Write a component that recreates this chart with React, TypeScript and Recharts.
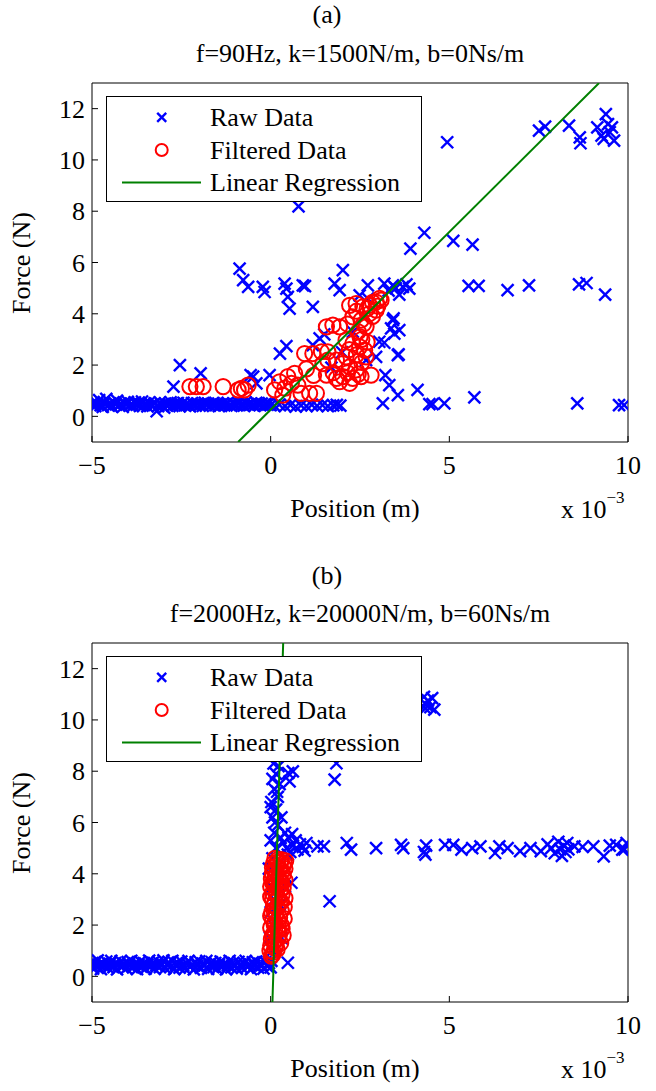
import { Legend, Scatter, ScatterChart, XAxis, YAxis } from 'recharts';

type Pt = [number, number];

const xTicks = [-5, 0, 5, 10];
const yTicks = [0, 2, 4, 6, 8, 10, 12];

const legendLabels = ['Raw Data', 'Filtered Data', 'Linear Regression'];

// panel (a): f=90Hz, k=1500N/m, b=0Ns/m  (x in 1e-3 m)
const rawA: Pt[] = [
  [-5.0, 0.45], [-4.96, 0.56], [-4.91, 0.4], [-4.86, 0.5], [-4.8, 0.63], [-4.76, 0.44], [-4.7, 0.37],
  [-4.66, 0.52], [-4.6, 0.68], [-4.55, 0.44], [-4.49, 0.5], [-4.45, 0.39], [-4.4, 0.55], [-4.33, 0.47],
  [-4.3, 0.61], [-4.24, 0.42], [-4.2, 0.5], [-4.14, 0.37], [-4.1, 0.53], [-4.04, 0.46], [-4.0, 0.57],
  [-3.94, 0.43], [-3.9, 0.49], [-3.86, 0.4], [-3.8, 0.55], [-3.74, 0.47], [-3.7, 0.52], [-3.66, 0.41],
  [-3.6, 0.58], [-3.54, 0.45], [-3.5, 0.5], [-3.45, 0.39], [-3.4, 0.54], [-3.34, 0.46], [-3.3, 0.42],
  [-3.25, 0.51], [-3.19, 0.2], [-3.15, 0.4], [-3.1, 0.55], [-3.05, 0.44], [-2.98, 0.34], [-2.95, 0.5],
  [-2.9, 0.42], [-2.84, 0.47], [-2.8, 0.55], [-2.75, 0.41], [-2.7, 0.49], [-2.64, 0.44], [-2.6, 0.52],
  [-2.55, 0.4], [-2.5, 0.47], [-2.44, 0.53], [-2.4, 0.43], [-2.35, 0.5], [-2.3, 0.45], [-2.26, 0.39],
  [-2.2, 0.52], [-2.15, 0.46], [-2.1, 0.42], [-2.04, 0.5], [-2.0, 0.44], [-1.95, 0.48], [-1.9, 0.41],
  [-1.84, 0.53], [-1.8, 0.45], [-1.75, 0.5], [-1.7, 0.42], [-1.64, 0.47], [-1.6, 0.52], [-1.55, 0.44],
  [-1.5, 0.49], [-1.45, 0.4], [-1.4, 0.46], [-1.34, 0.51], [-1.3, 0.43], [-1.25, 0.48], [-1.2, 0.53],
  [-1.15, 0.45], [-1.1, 0.41], [-1.04, 0.5], [-1.0, 0.47], [-0.95, 0.43], [-0.9, 0.52], [-0.84, 0.46],
  [-0.8, 0.49], [-0.75, 0.42], [-0.7, 0.55], [-0.64, 0.47], [-0.6, 0.44], [-0.55, 0.5], [-0.5, 0.46],
  [-0.45, 0.41], [-0.4, 0.53], [-0.34, 0.48], [-0.3, 0.45], [-0.25, 0.5], [-0.2, 0.43], [-0.15, 0.49],
  [-0.1, 0.46], [-0.05, 0.52], [0.0, 0.44], [0.1, 0.42], [0.24, 0.46], [0.4, 0.4], [0.55, 0.44],
  [0.7, 0.38], [0.85, 0.43], [1.0, 0.4], [1.15, 0.45], [1.3, 0.41], [1.45, 0.44], [1.6, 0.4],
  [1.75, 0.43], [1.85, 0.45], [1.95, 0.42],
  [-2.72, 1.16], [-2.54, 2.0], [-1.96, 1.68], [-0.56, 1.61], [-0.49, 1.55], [-0.4, 1.29], [-0.03, 1.61],
  [-0.87, 5.76], [-0.77, 5.31], [-0.63, 5.05], [-0.22, 5.05], [-0.17, 4.85], [0.39, 5.18], [0.44, 4.98],
  [0.48, 4.66], [0.53, 4.2], [0.9, 5.11], [0.96, 5.08], [1.18, 4.27], [0.78, 8.19], [1.79, 5.18],
  [1.93, 4.92], [2.02, 5.7], [2.49, 4.72], [2.72, 5.11], [2.72, 4.59], [3.18, 5.18], [3.42, 5.11],
  [3.7, 5.05], [3.88, 4.98], [3.3, 4.9], [3.5, 5.0], [3.6, 4.75], [3.8, 5.15], [0.26, 2.45],
  [0.44, 2.74], [1.18, 2.78], [1.37, 3.04], [2.67, 2.19], [2.95, 2.32], [3.04, 2.91], [3.42, 3.75],
  [3.6, 3.36], [3.46, 3.23], [3.56, 2.39], [3.14, 0.51], [3.21, 1.61], [3.32, 1.22], [3.56, 0.83],
  [3.18, 2.87], [3.58, 2.42], [3.44, 3.82], [3.37, 3.43], [4.11, 1.03], [4.44, 0.48], [4.53, 0.48],
  [4.86, 0.51], [5.7, 0.74], [8.58, 0.51], [9.75, 0.44], [9.89, 0.44], [3.91, 6.54], [4.3, 7.16],
  [5.11, 6.84], [5.65, 6.7], [5.54, 5.09], [5.82, 5.09], [6.63, 4.92], [7.23, 5.11], [8.63, 5.15],
  [8.84, 5.2], [9.36, 4.75], [4.94, 10.69], [7.51, 11.14], [7.68, 11.3], [8.35, 11.34], [8.65, 10.88],
  [8.67, 10.65], [9.14, 11.27], [9.26, 10.95], [9.38, 11.79], [9.44, 11.4], [9.49, 11.08], [9.55, 11.27],
  [9.61, 10.75], [9.32, 10.82], [1.5, 3.2], [2.0, 2.5], [2.3, 3.3], [1.7, 1.9], [2.6, 3.9],
];

const filteredA: Pt[] = [
  [-2.26, 1.16], [-2.08, 1.16], [-1.89, 1.16], [-1.33, 1.16], [-0.91, 1.03], [-0.82, 1.09], [-0.73, 1.03],
  [-0.63, 1.22], [0.11, 1.03], [0.25, 1.35], [0.34, 0.83], [0.4, 1.1], [0.48, 1.55], [0.67, 1.68],
  [0.58, 1.29], [0.76, 1.22], [0.85, 0.9], [1.09, 0.9], [1.28, 0.9], [0.95, 2.45], [1.18, 2.45],
  [1.42, 2.52], [1.6, 2.52], [1.46, 2.06], [1.6, 2.19], [1.0, 1.85], [1.2, 1.6], [1.56, 3.49],
  [1.74, 3.56], [1.93, 3.49], [2.21, 4.33], [2.39, 4.4], [2.58, 4.27], [2.77, 4.33], [2.95, 4.46],
  [3.09, 4.53], [2.3, 3.88], [2.53, 3.75], [2.67, 3.49], [2.77, 4.01], [2.95, 4.14], [2.45, 3.3],
  [2.6, 3.6], [2.85, 3.9], [3.0, 4.3], [2.7, 4.2], [2.5, 3.1], [2.11, 2.97], [2.3, 2.84], [2.49, 2.71],
  [2.63, 2.58], [1.84, 2.19], [2.02, 2.06], [2.21, 1.93], [2.39, 1.81], [2.11, 2.32], [2.67, 2.32],
  [1.56, 1.61], [1.84, 1.48], [2.02, 1.55], [2.3, 1.48], [2.53, 1.55], [2.81, 1.61], [1.93, 1.35],
  [2.21, 1.29], [2.4, 2.4], [2.55, 2.1], [2.2, 2.6], [1.75, 1.7], [2.15, 1.7], [2.45, 1.65],
  [2.85, 4.45], [3.05, 4.6], [2.4, 4.1], [2.15, 3.6], [2.7, 2.9], [2.55, 3.0],
];

const fitA: Pt[] = [[-0.91, -1], [9.19, 13]];

// panel (b): f=2000Hz, k=20000N/m, b=60Ns/m
const rawB: Pt[] = [
  [-5.0, 0.42], [-4.97, 0.3], [-4.93, 0.55], [-4.88, 0.38], [-4.84, 0.62], [-4.8, 0.47], [-4.75, 0.28],
  [-4.7, 0.52], [-4.66, 0.4], [-4.6, 0.58], [-4.55, 0.33], [-4.5, 0.49], [-4.46, 0.6], [-4.4, 0.36],
  [-4.35, 0.52], [-4.3, 0.27], [-4.25, 0.45], [-4.2, 0.59], [-4.15, 0.38], [-4.1, 0.5], [-4.04, 0.31],
  [-4.0, 0.56], [-3.95, 0.42], [-3.9, 0.6], [-3.85, 0.35], [-3.8, 0.5], [-3.74, 0.28], [-3.7, 0.47],
  [-3.65, 0.58], [-3.6, 0.37], [-3.55, 0.52], [-3.5, 0.3], [-3.45, 0.46], [-3.4, 0.61], [-3.35, 0.4],
  [-3.3, 0.53], [-3.25, 0.29], [-3.2, 0.44], [-3.15, 0.57], [-3.1, 0.36], [-3.05, 0.5], [-3.0, 0.62],
  [-2.95, 0.32], [-2.9, 0.47], [-2.85, 0.55], [-2.8, 0.38], [-2.75, 0.6], [-2.7, 0.28], [-2.65, 0.45],
  [-2.6, 0.53], [-2.55, 0.34], [-2.5, 0.58], [-2.45, 0.42], [-2.4, 0.3], [-2.35, 0.51], [-2.3, 0.6],
  [-2.25, 0.37], [-2.2, 0.46], [-2.15, 0.27], [-2.1, 0.55], [-2.05, 0.41], [-2.0, 0.59], [-1.95, 0.33],
  [-1.9, 0.5], [-1.85, 0.43], [-1.8, 0.6], [-1.75, 0.29], [-1.7, 0.47], [-1.65, 0.56], [-1.6, 0.36],
  [-1.55, 0.52], [-1.5, 0.3], [-1.45, 0.45], [-1.4, 0.58], [-1.35, 0.39], [-1.3, 0.5], [-1.25, 0.27],
  [-1.2, 0.44], [-1.15, 0.6], [-1.1, 0.35], [-1.05, 0.53], [-1.0, 0.42], [-0.95, 0.3], [-0.9, 0.57],
  [-0.85, 0.46], [-0.8, 0.33], [-0.75, 0.51], [-0.7, 0.6], [-0.65, 0.38], [-0.6, 0.47], [-0.55, 0.28],
  [-0.5, 0.55], [-0.45, 0.41], [-0.4, 0.58], [-0.35, 0.34], [-0.3, 0.49], [-0.25, 0.44], [-0.2, 0.3],
  [-0.15, 0.56], [-0.1, 0.4], [-0.05, 0.52], [0.0, 0.35],
  [0.02, 0.6], [0.05, 1.0], [-0.02, 1.5], [0.08, 2.0], [0.0, 2.5], [0.1, 3.0], [0.03, 3.5], [0.12, 4.0],
  [0.05, 4.6], [0.15, 5.0], [0.0, 5.3], [0.1, 5.6], [0.2, 5.9], [0.05, 6.2], [0.15, 6.5], [0.02, 6.8],
  [0.2, 7.0], [0.1, 7.3], [0.25, 7.5], [0.05, 7.7], [0.15, 7.9], [0.22, 8.2], [0.08, 8.3], [0.3, 6.2],
  [0.28, 5.4], [-0.05, 4.2], [0.2, 3.6], [0.25, 2.8], [0.3, 1.5], [0.12, 6.0], [0.0, 6.6], [0.18, 7.2],
  [0.35, 5.2], [0.45, 5.0], [0.5, 5.4], [0.55, 4.85], [0.62, 5.1], [0.7, 5.3], [0.75, 4.95],
  [0.82, 5.15], [0.9, 5.05], [0.95, 4.9], [1.0, 5.2], [0.4, 5.6], [0.6, 5.55], [0.48, 4.75],
  [0.62, 7.99], [0.53, 7.6], [1.79, 7.67], [1.84, 8.31], [0.58, 3.65], [0.48, 0.53], [1.65, 2.93],
  [0.49, 7.93], [0.4, 3.5],
  [4.29, 10.9], [4.35, 10.6], [4.4, 10.75], [4.47, 10.5], [4.52, 10.85], [4.58, 10.4], [4.33, 10.45],
  [1.31, 5.07], [1.49, 5.07], [2.13, 5.2], [2.25, 4.94], [2.95, 5.0], [3.65, 5.13], [3.71, 5.0],
  [4.29, 4.85], [4.33, 4.75], [4.35, 5.1], [4.88, 5.13], [5.11, 5.13], [5.34, 4.94], [5.64, 5.0],
  [5.87, 5.07], [6.28, 4.81], [6.4, 5.07], [6.63, 5.0], [6.98, 4.88], [7.27, 5.0], [7.56, 4.88],
  [7.75, 5.15], [7.85, 5.0], [7.95, 4.8], [8.05, 5.25], [8.1, 4.95], [8.15, 4.7], [8.2, 5.1],
  [8.25, 4.85], [8.3, 5.2], [8.33, 4.95], [8.5, 5.07], [8.73, 5.05], [9.03, 5.07], [9.32, 4.68],
  [9.49, 5.1], [9.67, 5.13], [9.84, 4.94], [9.96, 5.2], [9.9, 4.95],
];

const filteredB: Pt[] = [
  [0.02, 0.79], [0.08, 0.95], [0.0, 1.2], [0.12, 1.1], [0.1, 1.35], [0.05, 1.6], [0.22, 1.5],
  [0.2, 1.8], [0.0, 1.9], [0.1, 2.0], [0.12, 2.1], [0.3, 2.0], [0.25, 2.3], [0.03, 2.5], [0.18, 2.7],
  [0.3, 2.9], [0.05, 3.0], [0.15, 3.2], [0.28, 3.4], [0.0, 3.5], [0.1, 3.7], [0.3, 3.7], [0.22, 3.9],
  [0.05, 4.0], [0.32, 4.1], [0.15, 4.3], [0.08, 4.4], [0.28, 4.45], [0.38, 4.4], [0.2, 4.55],
  [0.06, 0.85], [0.15, 1.25], [0.02, 1.45], [0.25, 1.65], [0.12, 1.75], [0.32, 1.85], [0.06, 2.2],
  [0.2, 2.2], [0.15, 2.45], [0.3, 2.55], [0.08, 2.75], [0.22, 3.05], [0.32, 3.2], [0.05, 3.25],
  [0.2, 3.45], [0.12, 3.55], [0.25, 3.75], [0.02, 3.8], [0.15, 3.95], [0.35, 3.95], [0.25, 4.2],
  [0.1, 4.15], [0.35, 4.3], [0.18, 4.45],
  [-0.02, 1.0], [0.18, 1.05], [0.28, 1.3], [0.08, 1.55], [0.35, 1.6], [0.22, 1.95], [0.38, 2.25],
  [0.0, 2.35], [0.1, 2.55], [0.38, 2.7], [0.25, 2.85], [0.12, 2.9], [0.0, 3.1], [0.4, 3.05],
  [0.35, 3.45], [0.25, 3.55], [0.05, 3.65], [0.4, 3.75], [0.12, 3.85], [0.4, 4.2], [0.05, 4.25],
  [0.3, 4.55], [0.12, 4.6], [0.42, 4.5],
];

const fitB: Pt[] = [[0.05, -1], [0.35, 13]];

const FONT = '"Liberation Serif", "Times New Roman", serif';
const BLUE = '#0000ff';
const RED = '#ff0000';
const GREEN = '#008000';

const toXY = (pts: Pt[]) => pts.map(([x, y]) => ({ x, y }));

// recharts passes its own `size`, so the half-width is called `arm`
const Cross = (props: any) => {
  const { cx, cy, arm = 6 } = props;
  return (
    <g stroke={BLUE} strokeWidth={2.4}>
      <line x1={cx - arm} y1={cy - arm} x2={cx + arm} y2={cy + arm} />
      <line x1={cx - arm} y1={cy + arm} x2={cx + arm} y2={cy - arm} />
    </g>
  );
};

const Ring = (props: any) => (
  <circle cx={props.cx} cy={props.cy} r={props.rad ?? 7.6} fill="none" stroke={RED} strokeWidth={2} />
);

const NoDot = () => <g />;

function LegendBox() {
  const rows = [30, 62.6, 95];
  return (
    <svg width={316} height={106} style={{ display: 'block' }}>
      <rect x={0.5} y={0.5} width={315} height={105} fill="#fff" stroke="#000" />
      <Cross cx={55.7} cy={rows[0] - 8.6} arm={4.5} />
      <Ring cx={55.7} cy={rows[1] - 8.6} rad={6} />
      <line x1={16} y1={rows[2] - 8.6} x2={95} y2={rows[2] - 8.6} stroke={GREEN} strokeWidth={2} />
      {legendLabels.map((t, i) => (
        <text key={t} x={104} y={rows[i]} fontSize={26} fontFamily={FONT} fill="#000">
          {t}
        </text>
      ))}
    </svg>
  );
}

const fmtX = (v: number) => String(v).replace('-', '\u2212');

interface PanelProps {
  top: number;
  tag: string;
  tagTop: number;
  title: string;
  raw: Pt[];
  filtered: Pt[];
  fit: Pt[];
}

function Panel({ top, tag, tagTop, title, raw, filtered, fit }: PanelProps) {
  const text = { position: 'absolute' as const, fontSize: 26, lineHeight: '26px', whiteSpace: 'nowrap' as const };
  const axisStyle = { stroke: '#000' };
  return (
    <div style={{ position: 'absolute', left: 0, top, width: 656, height: 560 }}>
      <ScatterChart width={656} height={560} margin={{ top: 82, right: 27, bottom: 78, left: 0 }}>
        <XAxis
          xAxisId="b"
          dataKey="x"
          type="number"
          domain={[-5, 10]}
          ticks={xTicks}
          interval={0}
          allowDataOverflow
          height={40}
          tickSize={-6}
          tickMargin={20}
          tickFormatter={fmtX}
          tick={{ fill: '#000', fontSize: 26, fontFamily: FONT }}
          axisLine={axisStyle}
          tickLine={axisStyle}
        />
        <XAxis
          xAxisId="t"
          orientation="top"
          type="number"
          domain={[-5, 10]}
          ticks={xTicks}
          interval={0}
          allowDataOverflow
          height={1}
          tickSize={-6}
          tick={false}
          axisLine={axisStyle}
          tickLine={axisStyle}
        />
        <YAxis
          yAxisId="l"
          dataKey="y"
          type="number"
          domain={[-1, 13]}
          ticks={yTicks}
          interval={0}
          allowDataOverflow
          width={92}
          tickSize={-6}
          tickMargin={13}
          tick={{ fill: '#000', fontSize: 26, fontFamily: FONT }}
          axisLine={axisStyle}
          tickLine={axisStyle}
        />
        <YAxis
          yAxisId="r"
          orientation="right"
          type="number"
          domain={[-1, 13]}
          ticks={yTicks}
          interval={0}
          allowDataOverflow
          width={1}
          tickSize={-6}
          tick={false}
          axisLine={axisStyle}
          tickLine={axisStyle}
        />
        <Scatter xAxisId="b" yAxisId="l" data={toXY(raw)} shape={Cross} isAnimationActive={false} />
        <Scatter xAxisId="b" yAxisId="l" data={toXY(filtered)} shape={Ring} isAnimationActive={false} />
        <Scatter
          xAxisId="b"
          yAxisId="l"
          data={toXY(fit)}
          shape={NoDot}
          line={{ stroke: GREEN, strokeWidth: 2 }}
          isAnimationActive={false}
        />
        <Legend
          layout="vertical"
          align="center"
          verticalAlign="middle"
          wrapperStyle={{ left: 106, top: 96, width: 316, height: 106, margin: 0, padding: 0 }}
          content={() => <LegendBox />}
        />
      </ScatterChart>
      <div style={{ ...text, left: 0, width: 654, top: tagTop, textAlign: 'center' }}>{tag}</div>
      <div style={{ ...text, left: 60, width: 600, top: 41, textAlign: 'center' }}>{title}</div>
      <div style={{ ...text, left: 255, width: 200, top: 496, textAlign: 'center' }}>Position (m)</div>
      <div style={{ ...text, left: 561, top: 497 }}>
        x 10<span style={{ fontSize: 17, position: 'relative', top: -15 }}>{'\u22123'}</span>
      </div>
      <div
        style={{ ...text, left: -78, width: 200, top: 250, textAlign: 'center', transform: 'rotate(-90deg)' }}
      >
        Force (N)
      </div>
    </div>
  );
}

export default function App() {
  return (
    <div
      style={{
        position: 'absolute',
        left: 0,
        top: 0,
        width: 656,
        height: 1091,
        background: '#fff',
        fontFamily: FONT,
        color: '#000',
        overflow: 'hidden',
      }}
    >
      <Panel
        top={0}
        tag="(a)"
        tagTop={2}
        title="f=90Hz, k=1500N/m, b=0Ns/m"
        raw={rawA}
        filtered={filteredA}
        fit={fitA}
      />
      <Panel
        top={560}
        tag="(b)"
        tagTop={3}
        title="f=2000Hz, k=20000N/m, b=60Ns/m"
        raw={rawB}
        filtered={filteredB}
        fit={fitB}
      />
    </div>
  );
}
